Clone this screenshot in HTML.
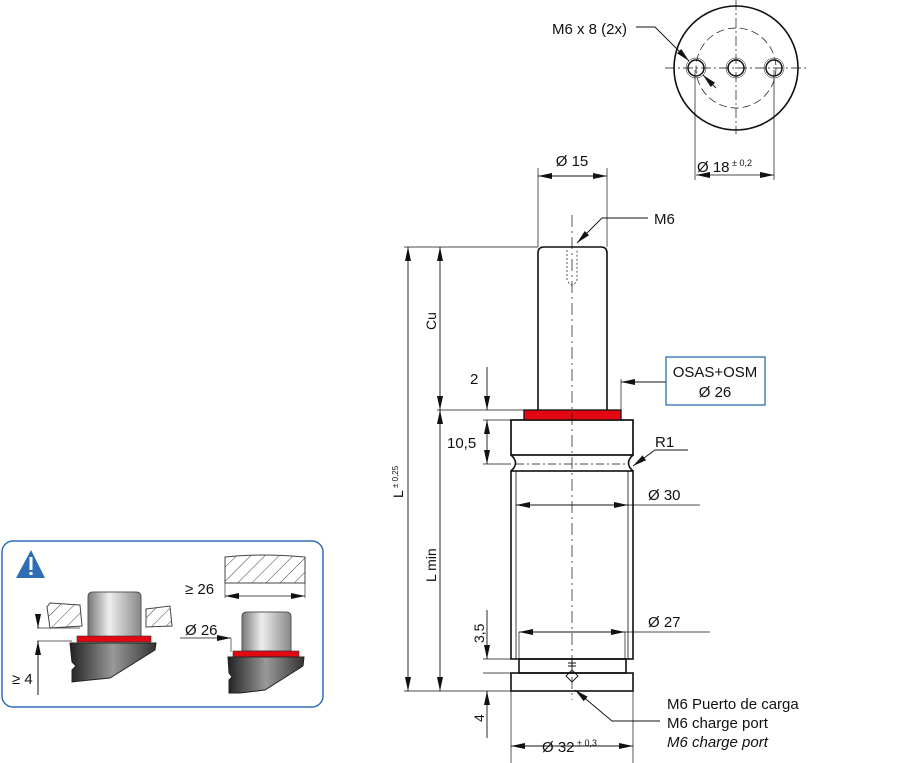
<!DOCTYPE html>
<html><head><meta charset="utf-8"><style>
html,body{margin:0;padding:0;background:#fff}
svg{display:block}
text{font-family:"Liberation Sans",sans-serif;fill:#111}
</style></head><body>
<svg width="900" height="763" viewBox="0 0 900 763" xmlns="http://www.w3.org/2000/svg">
<defs>
<marker id="a" viewBox="0 0 14 6" refX="14" refY="3" markerWidth="14" markerHeight="6" markerUnits="userSpaceOnUse" orient="auto-start-reverse"><path d="M0,0L14,3L0,6z" fill="#111"/></marker>
<pattern id="h" width="10" height="10" patternUnits="userSpaceOnUse" patternTransform="rotate(45)"><line x1="0" y1="0" x2="0" y2="10" stroke="#444" stroke-width="1"/></pattern>
<linearGradient id="g1" x1="0" x2="1"><stop offset="0" stop-color="#777"/><stop offset=".4" stop-color="#eee"/><stop offset="1" stop-color="#888"/></linearGradient>
<linearGradient id="g2" x1="0" x2="1"><stop offset="0" stop-color="#222"/><stop offset=".5" stop-color="#999"/><stop offset="1" stop-color="#333"/></linearGradient>
</defs>

<!-- Top view -->
<g stroke="#111" fill="none">
<circle cx="736" cy="68" r="62" stroke-width="1.6"/>
<circle cx="736" cy="68" r="40" stroke-width=".7" stroke-dasharray="8,4"/>
<circle cx="696" cy="68" r="8" stroke-width="1.5"/><circle cx="696" cy="68" r="10" stroke-width=".5"/>
<circle cx="736" cy="68" r="8" stroke-width="1.5"/><circle cx="736" cy="68" r="10" stroke-width=".5"/>
<circle cx="774" cy="68" r="8" stroke-width="1.5"/><circle cx="774" cy="68" r="10" stroke-width=".5"/>
<line x1="665" y1="68" x2="808" y2="68" stroke-width=".7" stroke-dasharray="10,3,2,3"/>
<line x1="736" y1="0" x2="736" y2="134" stroke-width=".7" stroke-dasharray="10,3,2,3"/>
<line x1="695" y1="70" x2="695" y2="180" stroke-width=".7"/>
<line x1="774" y1="70" x2="774" y2="180" stroke-width=".7"/>
<line x1="696" y1="175" x2="774" y2="175" stroke-width=".8" marker-start="url(#a)" marker-end="url(#a)"/>
<polyline points="636,27 655,27 689,61" stroke-width=".9" marker-end="url(#a)"/>
<line x1="716" y1="88" x2="703" y2="75" stroke-width=".9" marker-end="url(#a)"/>
</g>
<text x="552" y="34" font-size="15">M6 x 8 (2x)</text>
<text x="697" y="172" font-size="15">Ø 18<tspan font-size="9" dy="-6"> ± 0,2</tspan></text>

<!-- Main body -->
<g stroke="#111" fill="none" stroke-width="1.6">
<path d="M538,410 L538,253 Q538,247 544,247 L601,247 Q607,247 607,253 L607,410"/>
<rect x="511" y="420" width="122" height="35" stroke-width="1.7"/>
<path d="M511,455 Q520,463 511,471 M633,455 Q624,463 633,471"/>
<rect x="511" y="471" width="122" height="188"/>
<line x1="516" y1="471" x2="516" y2="659" stroke-width=".8"/>
<line x1="628" y1="471" x2="628" y2="659" stroke-width=".8"/>
<rect x="519" y="659" width="107" height="14"/>
<rect x="511" y="673" width="122" height="18"/>
</g>
<rect x="524" y="410" width="97" height="10" fill="#e30613" stroke="#111" stroke-width="1.3"/>
<g stroke="#111" stroke-width=".7" fill="none">
<line x1="572" y1="215" x2="572" y2="700" stroke-dasharray="12,4,2,4"/>
<line x1="516" y1="464" x2="628" y2="464" stroke-dasharray="8,3,2,3"/>
<path d="M567,250 L567,280 Q572,290 577,280 L577,250" stroke-dasharray="2,2"/>
<line x1="538" y1="168" x2="538" y2="247"/><line x1="607" y1="168" x2="607" y2="247"/>
<line x1="538" y1="176" x2="607" y2="176" stroke-width=".9" marker-start="url(#a)" marker-end="url(#a)"/>
<polyline points="648,218 602,218 577,243" stroke-width=".9" marker-end="url(#a)"/>
<line x1="404" y1="247" x2="538" y2="247"/>
<line x1="437" y1="410" x2="524" y2="410"/>
<line x1="483" y1="420" x2="511" y2="420"/>
<line x1="483" y1="464" x2="511" y2="464"/>
<line x1="483" y1="659" x2="519" y2="659"/>
<line x1="483" y1="673" x2="511" y2="673"/>
<line x1="404" y1="691" x2="511" y2="691"/>
<line x1="408" y1="247" x2="408" y2="691" stroke-width=".9" marker-start="url(#a)" marker-end="url(#a)"/>
<line x1="440" y1="247" x2="440" y2="410" stroke-width=".9" marker-start="url(#a)" marker-end="url(#a)"/>
<line x1="440" y1="410" x2="440" y2="691" stroke-width=".9" marker-start="url(#a)" marker-end="url(#a)"/>
<line x1="487" y1="367" x2="487" y2="410" stroke-width=".9" marker-end="url(#a)"/>
<line x1="487" y1="420" x2="487" y2="464" stroke-width=".9" marker-start="url(#a)" marker-end="url(#a)"/>
<line x1="487" y1="610" x2="487" y2="659" stroke-width=".9" marker-end="url(#a)"/>
<line x1="487" y1="738" x2="487" y2="691" stroke-width=".9" marker-end="url(#a)"/>
<line x1="621" y1="410" x2="621" y2="379"/>
<line x1="666" y1="382" x2="621" y2="382" stroke-width=".9" marker-end="url(#a)"/>
<polyline points="688,450 655,450 633,466" stroke-width=".9" marker-end="url(#a)"/>
<line x1="516" y1="505" x2="628" y2="505" stroke-width=".9" marker-start="url(#a)" marker-end="url(#a)"/>
<line x1="628" y1="505" x2="700" y2="505"/>
<line x1="519" y1="632" x2="519" y2="659"/><line x1="625" y1="632" x2="625" y2="659"/>
<line x1="519" y1="632" x2="625" y2="632" stroke-width=".9" marker-start="url(#a)" marker-end="url(#a)"/>
<line x1="625" y1="632" x2="710" y2="632"/>
<line x1="511" y1="691" x2="511" y2="763"/><line x1="633" y1="691" x2="633" y2="763"/>
<line x1="511" y1="746" x2="633" y2="746" stroke-width=".9" marker-start="url(#a)" marker-end="url(#a)"/>
<polyline points="660,721 612,721 575,690" stroke-width=".9" marker-end="url(#a)"/>
<path d="M566,676 L572,670 L578,676 L572,682 Z M572,660 L572,670 M568,663 L576,663 M568,666 L576,666" stroke-width=".9"/>
</g>
<rect x="666" y="357" width="99" height="48" fill="#fff" stroke="#2f6db5" stroke-width="1.3"/>
<text x="715" y="377" font-size="15" text-anchor="middle">OSAS+OSM</text>
<text x="715" y="397" font-size="15" text-anchor="middle">Ø 26</text>
<text x="572" y="166" font-size="15" text-anchor="middle">Ø 15</text>
<text x="654" y="224" font-size="15">M6</text>
<text x="655" y="447" font-size="15">R1</text>
<text x="648" y="500" font-size="15">Ø 30</text>
<text x="648" y="627" font-size="15">Ø 27</text>
<text x="470" y="384" font-size="15">2</text>
<text x="447" y="448" font-size="15">10,5</text>
<text x="542" y="752" font-size="15">Ø 32<tspan font-size="9" dy="-6"> ± 0,3</tspan></text>
<text x="667" y="709" font-size="15">M6 Puerto de carga</text>
<text x="667" y="728" font-size="15" fill="#333">M6 charge port</text>
<text x="667" y="747" font-size="15" font-style="italic" fill="#333">M6 charge port</text>
<g font-size="14">
<text transform="translate(436,330) rotate(-90)">Cu</text>
<text transform="translate(403,498) rotate(-90)">L<tspan font-size="8" dy="-5"> ± 0,25</tspan></text>
<text transform="translate(436,582) rotate(-90)">L min</text>
<text transform="translate(484,643) rotate(-90)">3,5</text>
<text transform="translate(484,722) rotate(-90)">4</text>
</g>

<!-- Warning box -->
<rect x="2" y="541" width="321" height="166" rx="11" fill="#fff" stroke="#2f6db5" stroke-width="1.5"/>
<polygon points="31,550 16,578 45,578" fill="#2f6db5"/>
<rect x="29.5" y="557" width="3" height="13" fill="#fff"/><rect x="29.5" y="572" width="3" height="3" fill="#fff"/>
<path d="M47,607 L50,603 L80,605 L82,626 L50,628 Z" fill="url(#h)" stroke="#444"/>
<path d="M146,609 L170,606 L172,626 L146,627 Z" fill="url(#h)" stroke="#444"/>
<path d="M88,597 Q88,592 93,592 L136,592 Q141,592 141,597 L141,637 L88,637 Z" fill="url(#g1)" stroke="#555"/>
<rect x="77" y="636" width="74" height="6" fill="#e30613" stroke="#333" stroke-width=".6"/>
<path d="M70,643 L156,643 L155,650 L110,678 L90,680 L72,682 L72,670 L76,666 L72,662 Z" fill="url(#g2)" stroke="#222"/>
<line x1="37" y1="628" x2="80" y2="628" stroke="#333" stroke-width=".8"/>
<line x1="37" y1="641" x2="72" y2="641" stroke="#333" stroke-width=".8"/>
<line x1="38" y1="614" x2="38" y2="628" stroke="#111" marker-end="url(#a)"/>
<line x1="38" y1="695" x2="38" y2="641" stroke="#111" marker-end="url(#a)"/>
<text x="12" y="684" font-size="15">≥ 4</text>
<path d="M225,557 Q260,553 305,557 L305,583 L225,583 Z" fill="url(#h)" stroke="#444"/>
<line x1="225" y1="583" x2="225" y2="598" stroke="#333" stroke-width=".7"/>
<line x1="305" y1="583" x2="305" y2="598" stroke="#333" stroke-width=".7"/>
<line x1="225" y1="596" x2="305" y2="596" stroke="#111" stroke-width=".8" marker-start="url(#a)" marker-end="url(#a)"/>
<text x="185" y="594" font-size="15">≥ 26</text>
<path d="M242,617 Q242,612 247,612 L286,612 Q291,612 291,617 L291,651 L242,651 Z" fill="url(#g1)" stroke="#555"/>
<rect x="233" y="651" width="66" height="6" fill="#e30613" stroke="#333" stroke-width=".6"/>
<path d="M228,657 L304,657 L303,666 L265,690 L240,693 L229,693 L229,680 L232,677 L229,673 Z" fill="url(#g2)" stroke="#222"/>
<line x1="180" y1="638" x2="231" y2="638" stroke="#111" stroke-width=".8" marker-end="url(#a)"/>
<line x1="231" y1="638" x2="231" y2="652" stroke="#333" stroke-width=".7"/>
<text x="185" y="635" font-size="15">Ø 26</text>
</svg>
</body></html>
